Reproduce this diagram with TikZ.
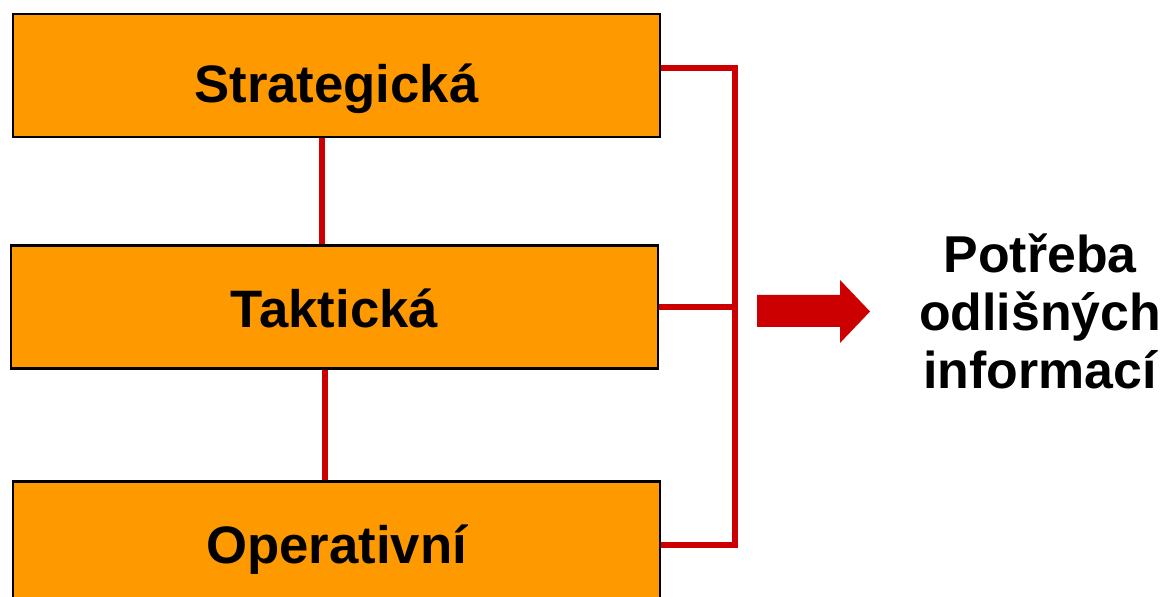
\documentclass[tikz,border=0pt]{standalone}
\usepackage{fontspec}
\setmainfont{Liberation Sans}
\usepackage{tikz}
\usetikzlibrary{positioning}
\definecolor{boxorange}{HTML}{FF9900}
\definecolor{linkred}{HTML}{CC0000}

\begin{document}
\begin{tikzpicture}[x=0.02cm,y=-0.02cm,
  level/.style={draw=black,line width=1.2pt,fill=boxorange,minimum width=12.94cm,minimum height=2.46cm,inner sep=0pt,text height=23pt,text depth=0pt,font=\fontsize{30}{33}\selectfont\bfseries},
  link/.style={linkred,line width=3.3pt},
  need/.style={align=center,font=\fontsize{29.5}{33}\selectfont\bfseries}]
\clip (0,0) rectangle (1175,597);
\node[level,text height=31pt] (strat) at (336.5,75.5) {Strategická};
\node[level] (takt) at (334.5,307) {Taktická};
\node[level] (oper) at (336.5,543) {Operativní};
\draw[link] (strat.south -| 322,0) -- (takt.north -| 322,0);
\draw[link] (takt.south -| 325,0) -- (oper.north -| 325,0);
\coordinate (bustop) at (735,68);
\coordinate (busbot) at (735,545);
\draw[link] (strat.east |- bustop) -- (bustop) -- (busbot) -- (oper.east |- busbot);
\draw[link] (takt.east) -- (takt.east -| bustop);
\fill[linkred] (757,295) -- (840,295) -- (840,280) -- (870,311.5) -- (840,343) -- (840,327) -- (757,327) -- cycle;
\node[need] (info) at (1040,311) {Potřeba\\odlišných\\informací};
\end{tikzpicture}
\end{document}
